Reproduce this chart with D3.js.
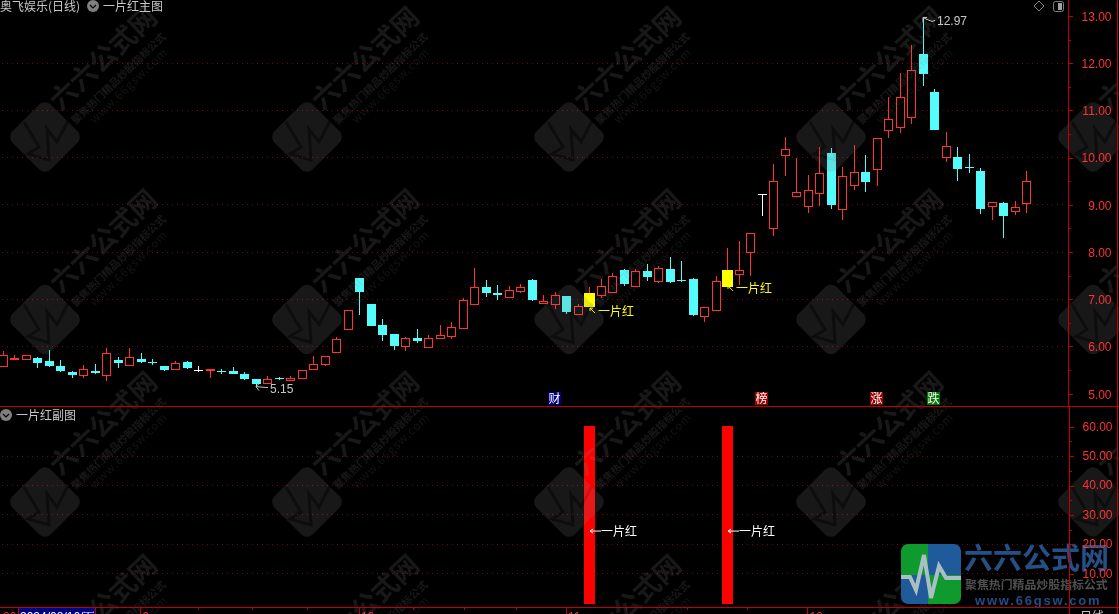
<!DOCTYPE html>
<html>
<head>
<meta charset="utf-8">
<script src="https://cdnjs.cloudflare.com/ajax/libs/d3/7.8.5/d3.min.js"></script>
<style>
html,body{margin:0;padding:0;background:#000;overflow:hidden}
svg{display:block}
text{font-family:"Noto Sans CJK SC","Noto Sans",sans-serif}
.num{font-family:"Liberation Sans",Arial,sans-serif}
</style>
</head>
<body>
<div id="chart"></div>
<script>
const opens=[5.59,5.73,5.74,5.76,5.69,5.59,5.46,5.40,5.48,5.39,5.71,5.60,5.73,5.67,5.58,5.52,5.67,5.51,5.50,5.48,5.48,5.42,5.31,5.23,5.33,5.30,5.34,5.52,5.62,5.89,6.38,7.45,6.90,6.46,6.26,6.01,6.18,5.99,6.19,6.22,6.40,6.89,7.26,7.13,7.05,7.18,7.41,6.93,6.90,7.07,6.69,6.84,7.09,7.15,7.62,7.29,7.60,7.39,7.64,7.41,7.43,6.65,6.77,7.26,7.53,8.01,9.23,8.50,10.06,9.19,8.98,9.25,10.10,8.92,9.41,9.70,9.76,10.58,10.64,10.87,12.20,11.39,10.02,10.02,9.80,9.72,8.98,9.04,8.88,9.03];
const highs=[5.91,5.82,5.81,5.78,5.93,5.71,5.48,5.61,5.63,5.96,5.77,5.96,5.86,5.73,5.59,5.69,5.69,5.58,5.53,5.53,5.57,5.46,5.32,5.37,5.35,5.37,5.50,5.80,5.79,6.20,6.77,7.45,6.90,6.58,6.26,6.20,6.37,6.24,6.46,6.52,7.02,7.66,7.41,7.30,7.28,7.32,7.44,7.09,7.15,7.07,6.90,7.26,7.43,7.56,7.64,7.64,7.75,7.70,7.89,7.81,7.45,6.84,7.49,8.09,8.23,8.40,9.23,9.87,10.44,9.99,9.63,10.23,10.20,9.80,10.27,10.06,10.41,11.29,11.79,12.39,12.97,11.46,10.54,10.23,10.08,9.78,9.05,9.06,9.08,9.72];
const lows=[5.57,5.73,5.74,5.55,5.57,5.47,5.34,5.34,5.42,5.27,5.55,5.60,5.66,5.61,5.49,5.51,5.53,5.46,5.34,5.42,5.42,5.29,5.15,5.21,5.28,5.29,5.32,5.51,5.59,5.86,6.36,6.67,6.43,6.12,5.93,5.91,6.08,5.97,6.19,6.15,6.40,6.89,7.05,6.98,7.05,7.14,6.96,6.89,6.79,6.69,6.66,6.84,7.02,7.13,7.29,7.29,7.39,7.34,7.34,7.36,6.65,6.52,6.77,7.26,7.30,7.50,8.76,8.33,9.62,9.17,8.83,8.98,8.92,8.68,9.31,9.27,9.40,10.42,10.52,10.71,11.52,10.59,9.91,9.51,9.68,8.81,8.68,8.30,8.79,8.83];
const closes=[5.81,5.76,5.81,5.64,5.59,5.49,5.39,5.52,5.44,5.86,5.66,5.78,5.68,5.66,5.51,5.64,5.55,5.51,5.53,5.47,5.42,5.32,5.21,5.32,5.32,5.33,5.50,5.62,5.79,6.15,6.77,7.15,6.43,6.24,6.02,6.17,6.12,6.17,6.24,6.41,6.98,7.27,7.13,7.09,7.19,7.25,6.98,6.96,7.08,6.73,6.85,7.13,7.28,7.49,7.32,7.59,7.47,7.66,7.36,7.39,6.67,6.84,7.39,7.62,7.63,8.40,9.23,9.50,10.18,9.27,9.31,9.67,9.00,9.61,9.69,9.49,10.41,10.81,11.28,11.85,11.77,10.59,10.24,9.76,9.79,8.91,9.05,8.76,8.95,9.50];

const signalIndex=[51,63];
const signalValues=[60,60];
const signalLabelPrice=[6.75,7.22];
const signalLabelSub=[24.5,24.5];
const signalText="一片红";

const priceTicks=[5,6,7,8,9,10,11,12,13];
const priceGrid=[6,7,8,9,10,11,12];
const priceMinor=[5.5,6.5,7.5,8.5,9.5,10.5,11.5,12.5];
const subTicks=[10,20,30,40,50,60];
const subGrid=[10,20,30,40,50];
const subMinor=[15,25,35,45,55];

const monthIndex=[12,31,49,70];
const monthLabels=["9","10","11","12"];
const minorDateIndex=[17,21.7,26.5,35.7,40.2,44.7,54.3,59.6,64.8];

const tagIndex=[48,66,76,81];
const tagLabels=["财","榜","涨","跌"];
const tagColors=["#000080","#a00000","#a00000","#007800"];

const lowMark={index:22,value:5.15,label:"5.15"};
const highMark={index:80,value:12.97,label:"12.97"};

const titleMain="奥飞娱乐(日线)";
const titleIndicator="一片红主图";
const titleSub="一片红副图";
const cursorDate="2024/08/16/五";

const W=1119,H=614,axisX=1068,RED="#ff3232",CYAN="#54fcfc",LINE="#c00000",GRID="#8a0000",TXT="#c8c8c8";

const x=d3.scaleLinear().domain([0,89]).range([3,1026.5]);
const y=d3.scaleLinear().domain([5,13]).range([393.7,16]);
const ySub=d3.scaleLinear().domain([0,60]).range([603.1,426.7]);

const svg=d3.select("#chart").append("svg").attr("width",W).attr("height",H);
svg.append("rect").attr("width",W).attr("height",H).attr("fill","#000");

// grid
const grid=svg.append("g").attr("stroke",GRID).attr("stroke-dasharray","1 4").attr("shape-rendering","crispEdges");
grid.selectAll("line.p").data(priceGrid).join("line").attr("class","p")
  .attr("x1",2).attr("x2",axisX-4).attr("y1",d=>Math.floor(y(d))+.5).attr("y2",d=>Math.floor(y(d))+.5);
grid.selectAll("line.s").data(subGrid).join("line").attr("class","s")
  .attr("x1",2).attr("x2",axisX-4).attr("y1",d=>Math.floor(ySub(d))+.5).attr("y2",d=>Math.floor(ySub(d))+.5);

// candles
const data=opens.map((o,i)=>({i,o,h:highs[i],l:lows[i],c:closes[i],sig:signalIndex.includes(i)}));
const col=d=>d.sig?RED:(d.c>d.o?RED:d.c<d.o?CYAN:"#fff");
const cx=d=>Math.floor(x(d.i));
const candles=svg.append("g").attr("shape-rendering","crispEdges");
const g=candles.selectAll("g").data(data).join("g");
g.append("line").attr("x1",d=>cx(d)+.5).attr("x2",d=>cx(d)+.5)
  .attr("y1",d=>y(d.h)).attr("y2",d=>y(d.l)).attr("stroke",col).attr("stroke-width",1);
g.each(function(d){
  const s=d3.select(this),top=Math.round(y(Math.max(d.o,d.c))),bot=Math.round(y(Math.min(d.o,d.c))),X=cx(d);
  if(d.sig){
    s.append("rect").attr("x",X-5).attr("y",top).attr("width",11).attr("height",bot-top).attr("fill","#ffff00");
  }else if(d.c>d.o){
    s.append("rect").attr("x",X-4+.5).attr("y",top+.5).attr("width",8).attr("height",Math.max(bot-top,1))
      .attr("fill","#000").attr("stroke",RED);
  }else if(d.c<d.o){
    s.append("rect").attr("x",X-4).attr("y",top).attr("width",9).attr("height",Math.max(bot-top,1)).attr("fill",CYAN);
  }else{
    s.append("line").attr("x1",X-4).attr("x2",X+5).attr("y1",top+.5).attr("y2",top+.5).attr("stroke","#fff");
  }
});

// indicator bars
const bars=svg.append("g").attr("shape-rendering","crispEdges");
bars.selectAll("rect").data(signalIndex).join("rect")
  .attr("x",d=>Math.floor(x(d))-5).attr("width",11)
  .attr("y",(d,i)=>ySub(signalValues[i])-.7).attr("height",(d,i)=>ySub(0)-ySub(signalValues[i])+1.4)
  .attr("fill","#ff0000");

// watermark tiles
const wm=svg.append("g").attr("fill","#808080").attr("opacity",.19);
const wmCols=[45,307,569,831,1093],wmRows=[137,319.5,502,685];
const pulse=d3.line()([[-21,-15],[-6,10],[-17,17],[4,23],[2,-8],[12,5],[23,-16]]);
wmRows.forEach(ry=>wmCols.forEach(rx=>{
  const t=wm.append("g").attr("transform",`translate(${rx},${ry})`);
  t.append("rect").attr("x",-27).attr("y",-27).attr("width",54).attr("height",54).attr("rx",8)
    .attr("transform","rotate(45)");
  t.append("path").attr("d",pulse).attr("fill","none").attr("stroke","#000").attr("stroke-opacity",.45).attr("stroke-width",3);
  t.append("text").attr("transform","translate(57,-80) rotate(-43)").attr("text-anchor","middle").attr("dominant-baseline","central")
    .attr("font-size",27).attr("font-weight",700).text("六六公式网");
  t.append("text").attr("transform","translate(73,-59) rotate(-44)").attr("text-anchor","middle").attr("dominant-baseline","central")
    .attr("font-size",10.5).attr("font-weight",700).text("聚焦热门精品炒股指标公式");
  t.append("text").attr("transform","translate(83,-52) rotate(-44)").attr("text-anchor","middle").attr("dominant-baseline","central")
    .attr("font-size",11.5).attr("letter-spacing",1).attr("opacity",.8).text("www.66gsw.com");
}));

// bottom-right logo
const logo=svg.append("g");
const cp=logo.append("clipPath").attr("id","lc");
cp.append("rect").attr("x",901).attr("y",544).attr("width",60).attr("height",60).attr("rx",7);
const lg=logo.append("g").attr("clip-path","url(#lc)");
[[901,544,27,31,"#0f9a2e"],[928,544,33,31,"#1f5a9a"],[901,575,27,29,"#1f5a9a"],[928,575,33,29,"#0f9a2e"]].forEach(r=>
  lg.append("rect").attr("x",r[0]).attr("y",r[1]).attr("width",r[2]).attr("height",r[3]).attr("fill",r[4]));
lg.append("path").attr("d",d3.line()([[901,577],[910,577],[916,590],[924,555],[931,598],[939,566],[946,578],[961,578]]))
  .attr("fill","none").attr("stroke","#a9bfc4").attr("stroke-width",4);
logo.append("text").attr("x",964).attr("y",569).attr("font-size",29).attr("font-weight",700).attr("fill","#264f86").text("六六公式网");
logo.append("text").attr("x",965).attr("y",589).attr("font-size",11.9).attr("font-weight",700).attr("fill","#505050").text("聚焦热门精品炒股指标公式");
logo.append("text").attr("x",975).attr("y",605).attr("font-size",13).attr("font-weight",700).attr("letter-spacing",1.8).attr("fill","#234c86")
  .attr("style",'font-family:"Liberation Sans",sans-serif').text("www.66gsw.com");

// frame lines
const frame=svg.append("g").attr("stroke",LINE).attr("shape-rendering","crispEdges");
frame.append("line").attr("x1",0).attr("x2",W).attr("y1",406.5).attr("y2",406.5);
frame.append("line").attr("x1",0).attr("x2",W).attr("y1",607.5).attr("y2",607.5);
frame.append("line").attr("x1",1117.5).attr("x2",1117.5).attr("y1",0).attr("y2",H);

// price axis
function styleAxis(sel,dy){
  sel.select(".domain").attr("stroke",LINE);
  sel.selectAll(".tick line").attr("stroke",LINE);
  sel.selectAll(".tick text").attr("class","num").attr("fill",RED).attr("font-size",12)
    .attr("text-anchor","end").attr("x",44).attr("dy",dy);
  sel.attr("shape-rendering","crispEdges");
}
const ap=svg.append("g").attr("transform",`translate(${axisX-.5},0)`)
  .call(d3.axisRight(y).tickValues(priceTicks).tickSize(5).tickSizeOuter(0).tickFormat(d3.format(".2f")));
ap.select(".domain").attr("d","M0.5,0V406");
styleAxis(ap,".36em");
ap.selectAll("line.mn").data(priceMinor).join("line").attr("class","mn").attr("x1",0).attr("x2",3)
  .attr("y1",d=>Math.round(y(d))+.5).attr("y2",d=>Math.round(y(d))+.5).attr("stroke",LINE);

const as=svg.append("g").attr("transform",`translate(${axisX+.5},0)`)
  .call(d3.axisRight(ySub).tickValues(subTicks).tickSize(5).tickSizeOuter(0).tickFormat(d3.format(".2f")));
as.select(".domain").attr("d","M0.5,406V614");
styleAxis(as,".28em");
as.selectAll("line.mn").data(subMinor).join("line").attr("class","mn").attr("x1",0).attr("x2",3)
  .attr("y1",d=>Math.round(ySub(d))+.5).attr("y2",d=>Math.round(ySub(d))+.5).attr("stroke",LINE);

// time axis
const ax=svg.append("g").attr("transform","translate(-1.5,607)");
const axG=ax.append("g").attr("shape-rendering","crispEdges").attr("stroke",LINE);
axG.selectAll("line.maj").data(monthIndex).join("line").attr("class","maj")
  .attr("x1",d=>Math.round(x(d))+.5).attr("x2",d=>Math.round(x(d))+.5).attr("y1",0).attr("y2",8);
axG.selectAll("line.min").data(minorDateIndex).join("line").attr("class","min")
  .attr("x1",d=>Math.round(x(d))+.5).attr("x2",d=>Math.round(x(d))+.5).attr("y1",0).attr("y2",3);
ax.selectAll("text").data(monthIndex).join("text").attr("class","num").attr("x",d=>x(d)+3).attr("y",13.5)
  .attr("fill",RED).attr("font-size",12).text((d,i)=>monthLabels[i]);
svg.append("text").attr("class","num").attr("x",3).attr("y",620.5).attr("fill",RED).attr("font-size",12).text("20");
svg.append("rect").attr("x",18.5).attr("y",607.5).attr("width",77).attr("height",10).attr("fill","#000080").attr("stroke",LINE).attr("shape-rendering","crispEdges");
svg.append("text").attr("class","num").attr("x",20).attr("y",620.5).attr("fill","#fff").attr("font-size",12).text(cursorDate);
svg.append("text").attr("x",1080).attr("y",621).attr("fill",TXT).attr("font-size",12).text("日线");

// news tags
const tags=svg.append("g").selectAll("g").data(tagIndex).join("g")
  .attr("transform",d=>`translate(${Math.floor(x(d))-7},392)`);
tags.append("rect").attr("width",13).attr("height",13).attr("fill",(d,i)=>tagColors[i]).attr("shape-rendering","crispEdges");
tags.append("text").attr("x",6.5).attr("y",11).attr("text-anchor","middle").attr("fill","#fff").attr("font-size",12).text((d,i)=>tagLabels[i]);

// high / low marks
const arrows=svg.append("g").attr("fill","none");
{
  const lx=x(lowMark.index),ly=y(lowMark.value);
  arrows.append("path").attr("d",`M${lx},${ly}l12,1M${lx},${ly}l3,-3M${lx},${ly}l3,4`).attr("stroke",TXT);
  svg.append("text").attr("class","num").attr("x",lx+14).attr("y",ly+6).attr("fill",TXT).attr("font-size",12).text(lowMark.label);
  const hx=x(highMark.index),hy=y(highMark.value);
  arrows.append("path").attr("d",`M${hx},${hy}l4,2l5,2l3,-1M${hx},${hy}v5M${hx},${hy}h4`).attr("stroke",TXT);
  svg.append("text").attr("class","num").attr("x",hx+14).attr("y",hy+8).attr("fill",TXT).attr("font-size",12).text(highMark.label);
}

// 一片红 labels
signalIndex.forEach((idx,k)=>{
  const px=Math.floor(x(idx)),py=y(signalLabelPrice[k]);
  svg.append("path").attr("d",`M${px+1},${py-3}l5,5M${px+1},${py-3}v3M${px+1},${py-3}h3`).attr("fill","none").attr("stroke","#ffff00");
  svg.append("text").attr("x",px+9).attr("y",py-1).attr("dominant-baseline","central").attr("fill","#ffff00").attr("font-size",12).text(signalText);
  const sy=ySub(signalLabelSub[k]);
  svg.append("path").attr("d",`M${px+1},${sy}h11M${px+1},${sy}l3,-2M${px+1},${sy}l3,2`).attr("fill","none").attr("stroke","#fff");
  svg.append("text").attr("x",px+12).attr("y",sy-1).attr("dominant-baseline","central").attr("fill","#fff").attr("font-size",12).text(signalText);
});

// titles
function chevron(cxp,cyp){
  svg.append("circle").attr("cx",cxp).attr("cy",cyp).attr("r",6).attr("fill","#808080");
  svg.append("path").attr("d",`M${cxp-3},${cyp-1}l3,3l3,-3`).attr("fill","none").attr("stroke","#000").attr("stroke-width",1.2);
}
svg.append("text").attr("x",0).attr("y",5).attr("dominant-baseline","central").attr("fill",TXT).attr("font-size",12).text(titleMain);
chevron(93,6);
svg.append("text").attr("x",103).attr("y",5).attr("dominant-baseline","central").attr("fill",TXT).attr("font-size",12).text(titleIndicator);
chevron(6,415);
svg.append("text").attr("x",16).attr("y",414).attr("dominant-baseline","central").attr("fill",TXT).attr("font-size",12).text(titleSub);

// top-right icons
svg.append("path").attr("d","M1039,1L1044,6L1039,11L1034,6Z").attr("fill","none").attr("stroke","#808080");
svg.append("rect").attr("x",1053.5).attr("y",1.5).attr("width",10).attr("height",10).attr("rx",2).attr("fill","none").attr("stroke","#808080");
svg.append("rect").attr("x",1058).attr("y",3).attr("width",4).attr("height",7).attr("fill","#a0a0a0");
</script>
</body>
</html>
